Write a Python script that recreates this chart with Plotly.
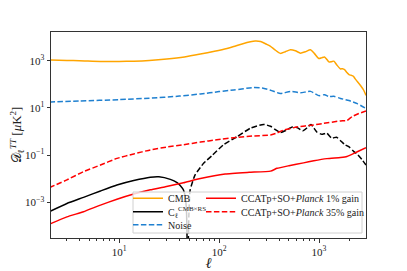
import plotly.graph_objects as go

# ---------------- data ----------------
ell_cmb = [2, 3, 4, 6.5, 10, 14, 20, 30, 45, 65, 90, 120, 140, 170, 206, 230, 260, 300, 327, 360,
           411, 460, 518, 580, 653, 730, 822, 900, 995, 1060, 1135, 1200, 1254, 1330, 1407, 1500,
           1641, 1720, 1803, 1900, 1995, 2100, 2205, 2300, 2415, 2600, 2800, 2950]
d_cmb = [1070, 1020, 1000, 933, 933, 955, 1020, 1175, 1445, 1905, 2512, 3311, 3981, 5129, 6310,
         6761, 6457, 4898, 4074, 2951, 2042, 2399, 2884, 2630, 2089, 2399, 2884, 1995, 1230, 1318,
         1445, 1122, 891, 912, 955, 676, 447, 457, 417, 316, 257, 240, 219, 170, 132, 89, 56, 34]

ell_noise = [2, 4, 10, 20, 40, 65, 100, 140, 222, 270, 327, 411, 518, 653, 822, 995, 1135, 1254,
             1407, 1640, 1995, 2415, 2950]
d_noise = [17.8, 19.5, 22.4, 25.7, 31.6, 38.9, 49.0, 57.5, 72.4, 69.2, 56.2, 40.7, 50.1, 43.7,
           50.1, 33.1, 36.3, 30.2, 30.9, 25.1, 20.4, 15.1, 9.55]

ell_x_pos = [2, 3, 4.4, 6.5, 9.5, 14, 20.5, 25, 32.5, 38, 41, 44, 46, 47.2, 48.0]
d_x_pos = [3.98e-4, 8.91e-4, 1.62e-3, 3.02e-3, 5.37e-3, 8.32e-3, 0.0115, 0.0120, 9.33e-3,
           6.76e-3, 5.01e-3, 3.31e-3, 1.58e-3, 3.98e-4, 1e-5]

ell_x_neg = [49.0, 49.8, 50.5, 51.3, 57.5, 70, 85, 110, 151, 206, 278, 327, 360, 411, 467, 540,
             600, 690, 760, 830, 890, 950, 1066, 1195, 1340, 1500, 1650, 1800, 2000, 2230, 2400,
             2700, 2950]
d_x_neg = [1e-5, 2.51e-4, 1.26e-3, 3.31e-3, 0.0145, 0.0447, 0.0955, 0.269, 0.603, 1.38, 2.0,
           1.66, 1.26, 0.912, 1.12, 1.55, 1.48, 1.07, 1.45, 2.0, 1.38, 0.955, 0.759, 0.851,
           0.525, 0.575, 0.398, 0.282, 0.224, 0.141, 0.112, 0.0631, 0.038]

ell_g1 = [2, 3, 4.4, 6.5, 9.5, 14, 20.5, 29, 44, 65, 115, 200, 327, 380, 500, 700, 886, 1200,
          1640, 1900, 2415, 2950]
d_g1 = [1.17e-4, 2.40e-4, 3.98e-4, 7.59e-4, 1.35e-3, 2.24e-3, 3.39e-3, 4.57e-3, 6.76e-3,
        0.0102, 0.0158, 0.0186, 0.0209, 0.0275, 0.0355, 0.0468, 0.0575, 0.0708, 0.0794,
        0.0871, 0.138, 0.204]

ell_g35 = [2, 3, 4.4, 6.5, 9.5, 14, 20.5, 30, 44, 65, 95, 150, 220, 327, 380, 444, 600, 886,
           1100, 1640, 1900, 2140, 2500, 2950]
d_g35 = [0.00417, 0.00891, 0.0200, 0.0380, 0.0724, 0.112, 0.166, 0.219, 0.275, 0.355, 0.447,
         0.562, 0.646, 0.708, 0.871, 1.148, 1.549, 1.905, 2.188, 2.818, 2.884, 4.266, 5.754,
         7.413]

x_tickvals = [10, 100, 1000]
x_ticktext = ["10<sup>1</sup>", "10<sup>2</sup>", "10<sup>3</sup>"]
y_tickvals = [1e-3, 1e-1, 1e1, 1e3]
y_ticktext = ["10<sup>−3</sup>", "10<sup>−1</sup>", "10<sup>1</sup>", "10<sup>3</sup>"]

# ---------------- figure ----------------
FONT = "Liberation Serif"
DASH = "5.5px,2.4px"
LW = 1.5

fig = go.Figure()
fig.add_trace(go.Scatter(x=ell_cmb, y=d_cmb, mode="lines", name="CMB",
                         line=dict(color="#FFA500", width=LW, shape="spline", smoothing=0.6),
                         legend="legend"))
fig.add_trace(go.Scatter(x=ell_x_pos, y=d_x_pos, mode="lines",
                         name="C<sub>ℓ</sub><sup>CMB×RS</sup>",
                         line=dict(color="black", width=LW, shape="spline", smoothing=0.5),
                         legend="legend2"))
fig.add_trace(go.Scatter(x=ell_x_neg, y=d_x_neg, mode="lines", showlegend=False,
                         line=dict(color="black", width=LW, dash=DASH, shape="spline",
                                   smoothing=0.5)))
fig.add_trace(go.Scatter(x=ell_noise, y=d_noise, mode="lines", name="Noise",
                         line=dict(color="#1f80d0", width=LW, dash=DASH, shape="spline",
                                   smoothing=0.6),
                         legend="legend3"))
fig.add_trace(go.Scatter(x=ell_g1, y=d_g1, mode="lines",
                         name="CCATp+SO+<i>Planck</i> 1% gain",
                         line=dict(color="red", width=LW, shape="spline", smoothing=0.4),
                         legend="legend4"))
fig.add_trace(go.Scatter(x=ell_g35, y=d_g35, mode="lines",
                         name="CCATp+SO+<i>Planck</i> 35% gain",
                         line=dict(color="red", width=LW, dash=DASH, shape="spline",
                                   smoothing=0.4),
                         legend="legend5"))

# page body has an 8px margin, so the figure is drawn offset by 8px
OFF = 8
W, H = 407 - OFF, 271 - OFF
L, R, T, B = 51 - OFF, 41, 32 - OFF, 33
pw, ph = W - L - R, H - T - B


def px(xp):  # page pixel x -> paper
    return (xp - OFF - L) / pw


def py(yp):  # page pixel y -> paper
    return (H - B - (yp - OFF)) / ph


leg_common = dict(bgcolor="rgba(0,0,0,0)", borderwidth=0, xanchor="left", yanchor="middle",
                  font=dict(family=FONT, size=10, color="#222"), itemwidth=30,
                  tracegroupgap=0)
col1, col2 = px(128), px(201)
fig.update_layout(
    legend=dict(x=col1, y=py(198.3), **leg_common),
    legend2=dict(x=col1, y=py(211.7), **leg_common),
    legend3=dict(x=col1, y=py(224.7), **leg_common),
    legend4=dict(x=col2, y=py(198.3), **leg_common),
    legend5=dict(x=col2, y=py(211.7), **leg_common),
)

fig.add_shape(type="rect", xref="paper", yref="paper", layer="above",
              x0=px(133), x1=px(362), y0=py(233), y1=py(192),
              line=dict(color="#d0d0d0", width=1), fillcolor="rgba(255,255,255,0.8)")

minor_x = [m * 10 ** k for k in range(0, 4) for m in range(2, 10) if 2 <= m * 10 ** k <= 3000]

axis_common = dict(showline=True, mirror=True, linecolor="#333", linewidth=1,
                   ticks="outside", ticklen=3.5, tickwidth=0.8, tickcolor="#333",
                   showgrid=False, zeroline=False, automargin=False,
                   tickfont=dict(family=FONT, size=11, color="#222"))

fig.update_xaxes(type="log", range=[0.318, 3.470], tickmode="array", tickvals=x_tickvals,
                 ticktext=x_ticktext,
                 minor=dict(tickmode="array", tickvals=minor_x, ticks="outside", ticklen=2,
                            tickwidth=0.6, tickcolor="#333", showgrid=False),
                 title=dict(text="<i>ℓ</i>", font=dict(family=FONT, size=15, color="#222"),
                            standoff=0),
                 **axis_common)
fig.update_yaxes(type="log", range=[-4.513, 4.216], tickmode="array", tickvals=y_tickvals,
                 ticktext=y_ticktext,
                 title=dict(text="𝒟<sub>ℓ</sub><sup><i>TT</i></sup> [<i>μ</i>K<sup>2</sup>]",
                            font=dict(family=FONT, size=13, color="#222"), standoff=6),
                 **axis_common)

fig.update_layout(width=W, height=H, margin=dict(l=L, r=R, t=T, b=B, pad=0, autoexpand=False),
                  plot_bgcolor="white", paper_bgcolor="white",
                  font=dict(family=FONT, color="#222"))

fig.write_html("out.html")
